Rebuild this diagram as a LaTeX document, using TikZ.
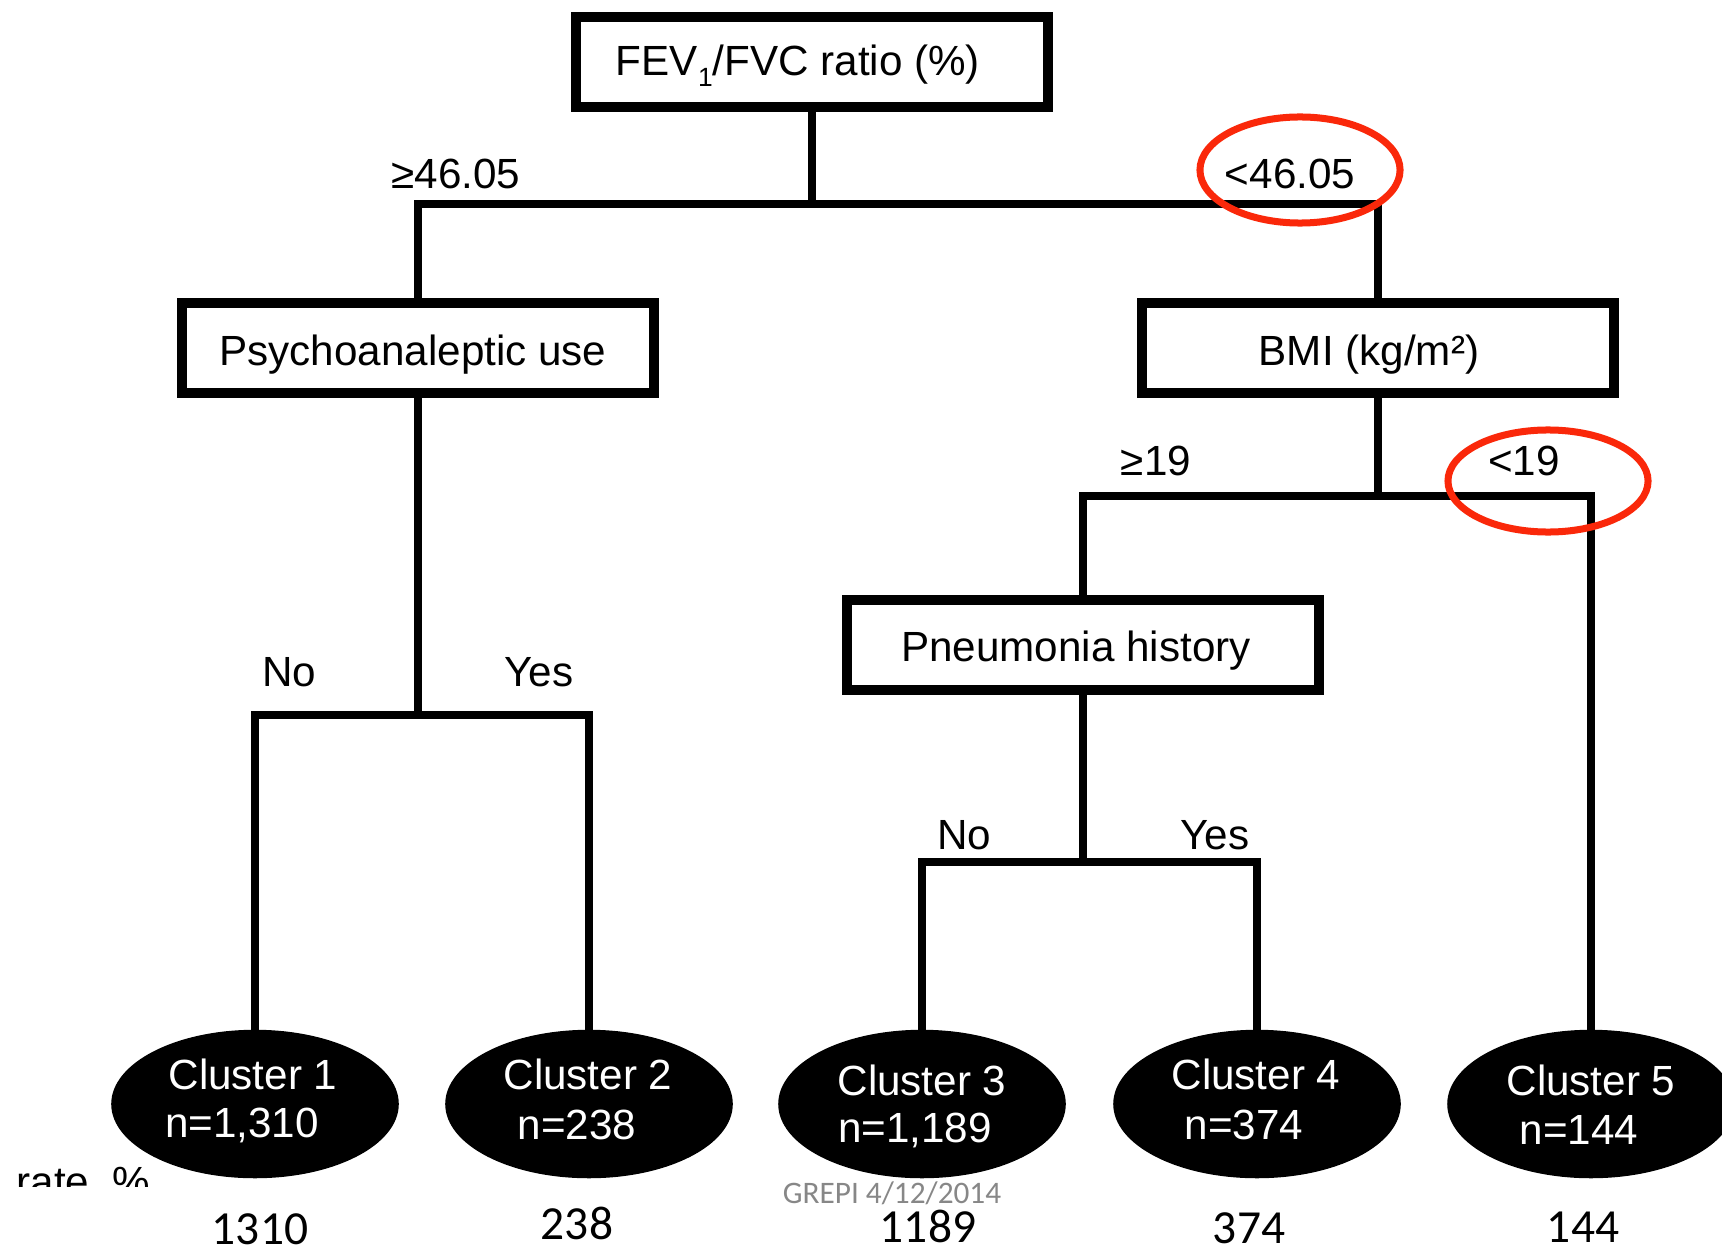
\documentclass[tikz,border=0pt]{standalone}
\usepackage{fontspec}
\setmainfont{Liberation Sans}
\newfontfamily\calib{Carlito}
\usetikzlibrary{shapes.geometric}
\definecolor{redring}{RGB}{250,40,10}
\definecolor{grepi}{RGB}{135,135,135}
\begin{document}
\begin{tikzpicture}[x=0.01cm,y=-0.01cm,
  box/.style={draw=black, line width=0.1cm, minimum width=4.72cm, minimum height=0.89cm, inner sep=0pt},
  conn/.style={line width=0.075cm},
  clus/.style={ellipse, fill=black, draw=black, minimum width=2.86cm, minimum height=1.47cm, inner sep=0pt},
  ctext/.style={text=white, font=\fontsize{12}{14}\selectfont, inner sep=0pt},
  lbl/.style={font=\fontsize{12}{14}\selectfont, inner sep=0pt},
  ring/.style={draw=redring, line width=0.07cm, ellipse, minimum width=2cm, minimum height=1.06cm, inner sep=0pt},
  num/.style={font=\calib\fontsize{13.5}{16}\selectfont, inner sep=0pt}
]
\useasboundingbox (0,0) rectangle (1722,1252);
\clip (0,0) rectangle (1722,1252);
\fill[white] (0,0) rectangle (1722,1252);

% decision boxes
\node[box] (top) at (812,62) {};
\node[box] (psy) at (418,348) {};
\node[box] (bmi) at (1378,348) {};
\node[box] (pn) at (1083,645) {};

% box texts
\node[lbl] (topt) at (798,66) {FEV\raisebox{-0.5ex}{\fontsize{7.5}{8}\selectfont 1}/FVC ratio (\%)};
\node[lbl] (psyt) at (413,355) {Psychoanaleptic use};
\node[lbl] (bmit) at (1369,355) {BMI (kg/m²)};
\node[lbl] (pnt) at (1076,651) {Pneumonia history};

% leaves
\node[clus] (c1) at (255,1104) {};
\node[clus] (c2) at (589,1104) {};
\node[clus] (c3) at (922,1104) {};
\node[clus] (c4) at (1257,1104) {};
\node[clus] (c5) at (1591,1104) {};

% junctions
\coordinate (j1) at (812,204);
\coordinate (j2) at (1378,496);
\coordinate (j3) at (418,715);
\coordinate (j4) at (1083,862);

% connectors
\draw[conn] (top.south) -- (j1);
\draw[conn] (psy.north) |- (j1) -| (bmi.north);
\draw[conn] (bmi.south) -- (j2);
\draw[conn] (pn.north) |- (j2) -| (c5.north);
\draw[conn] (psy.south) -- (j3);
\draw[conn] (c1.north) |- (j3) -| (c2.north);
\draw[conn] (pn.south) -- (j4);
\draw[conn] (c3.north) |- (j4) -| (c4.north);

% branch labels
\node[lbl] (l1) at (456,174) {≥46.05};
\node[lbl] (l2) at (1290,174) {<46.05};
\node[lbl] (l3) at (1156,461) {≥19};
\node[lbl] (l4) at (1524,461) {<19};
\node[lbl] (l5) at (289,672) {No};
\node[lbl] (l6) at (539,672) {Yes};
\node[lbl] (l7) at (964,835) {No};
\node[lbl] (l8) at (1215,835) {Yes};

% red rings
\node[ring] (r1) at (1300,170) {};
\node[ring, minimum height=1.02cm] (r2) at (1548,481) {};

% cluster texts
\node[ctext] (c1a) at (253,1074) {Cluster 1};
\node[ctext] (c1b) at (242,1125) {n=1,310};
\node[ctext] (c2a) at (588,1074) {Cluster 2};
\node[ctext] (c2b) at (577,1125) {n=238};
\node[ctext] (c3a) at (922,1080) {Cluster 3};
\node[ctext] (c3b) at (915,1130) {n=1,189};
\node[ctext] (c4a) at (1256,1074) {Cluster 4};
\node[ctext] (c4b) at (1244,1125) {n=374};
\node[ctext] (c5a) at (1591,1080) {Cluster 5};
\node[ctext] (c5b) at (1579,1130) {n=144};

% clipped "rate %" text
\begin{scope}
\clip (0,1000) rectangle (300,1186);
\node[lbl, anchor=base west] (rate) at (16,1196) {rate~~\%};
\end{scope}

% footer
\node[font=\calib\fontsize{8.9}{10}\selectfont, text=grepi, inner sep=0pt] (grepi) at (892,1193) {GREPI 4/12/2014};

% bottom numbers
\node[num] (n1) at (260,1229) {1310};
\node[num] (n2) at (577,1223) {238};
\node[num] (n3) at (928,1226) {1189};
\node[num] (n4) at (1249,1228) {374};
\node[num] (n5) at (1583,1227) {144};
\end{tikzpicture}
\end{document}
